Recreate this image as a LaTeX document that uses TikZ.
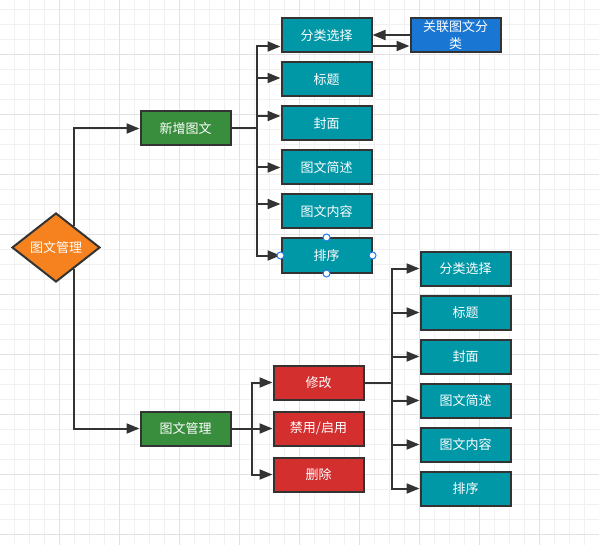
\documentclass[tikz,border=0pt]{standalone}
\usepackage{fontspec}
\setmainfont{Noto Sans CJK SC}
\usetikzlibrary{arrows.meta,shapes.geometric,calc}
\definecolor{boxline}{HTML}{333333}
\definecolor{rootorange}{HTML}{F5821F}
\definecolor{addgreen}{HTML}{388E3C}
\definecolor{fieldteal}{HTML}{0097A7}
\definecolor{linkblue}{HTML}{1976D2}
\definecolor{opred}{HTML}{D32F2F}
\definecolor{handleblue}{HTML}{1A7CF5}
\definecolor{gridminor}{HTML}{F1F1F1}
\definecolor{gridmajor}{HTML}{E2E2E2}
\tikzset{
  box/.style={draw=boxline, line width=2pt, minimum width=90pt, minimum height=34pt,
    inner sep=0pt, text=white, font=\fontsize{13pt}{17pt}\selectfont, align=center},
  dia/.style={diamond, draw=boxline, line width=2pt, fill=rootorange, minimum width=88pt,
    minimum height=69pt, inner sep=0pt, text=white, font=\fontsize{13pt}{17pt}\selectfont},
  conn/.style={draw=boxline, line width=2pt, -{Triangle[length=13pt,width=10pt]}},
  handle/.style={draw=handleblue, fill=white, line width=1pt},
}
\begin{document}
\begin{tikzpicture}[x=1pt,y=-1pt]
\useasboundingbox (0,0) rectangle (599,545);
% grid
\foreach \gx in {0,...,39} \draw[gridminor, line width=1pt] (14.7+15*\gx,0) -- (14.7+15*\gx,545);
\foreach \gy in {0,...,35} \draw[gridminor, line width=1pt] (0,9.3+15*\gy) -- (599,9.3+15*\gy);
\foreach \gx in {0,...,9} \draw[gridmajor, line width=1pt] (59.7+60*\gx,0) -- (59.7+60*\gx,545);
\foreach \gy in {0,...,8} \draw[gridmajor, line width=1pt] (0,54.3+60*\gy) -- (599,54.3+60*\gy);

\node[dia] (root) at (56,247.5) {图文管理}; % root
\node[box, fill=addgreen] (add) at (185.5,128.5) {新增图文}; % add
\node[box, fill=addgreen] (manage) at (185.5,428.5) {图文管理}; % manage
\node[box, fill=linkblue] (link) at (455.5,35.5) {关联图文分\\类}; % link

% fields of add
\foreach \name/\txt [count=\i from 0] in {a/分类选择, b/标题, c/封面, d/图文简述, e/图文内容, f/排序}
  \node[box, fill=fieldteal] (add\name) at (326.5,35.5+44*\i) {\txt};
% operations of manage
\foreach \name/\txt [count=\i from 0] in {edit/修改, toggle/{禁用/启用}, del/删除}
  \node[box, fill=opred] (\name) at (318.5,382.5+46*\i) {\txt};
% fields of edit
\foreach \name/\txt [count=\i from 0] in {a/分类选择, b/标题, c/封面, d/图文简述, e/图文内容, f/排序}
  \node[box, fill=fieldteal] (edit\name) at (465.5,268.5+44*\i) {\txt};

% root -> add, manage
\draw[conn] ($(root.north)!0.4!(root.east)$) |- (add.west);
\draw[conn] ($(root.south)!0.4!(root.east)$) |- (manage.west);

% add -> fields
\coordinate (addtrunk) at ([xshift=25]add.east);
\draw[boxline, line width=2pt] (add.east) -- (addtrunk);
\draw[conn] (addtrunk) |- ([yshift=-11]adda.west);
\draw[conn] (addtrunk) |- ([yshift=1.5]addb.west);
\draw[conn] (addtrunk) |- ([yshift=7.5]addc.west);
\draw[conn] (addtrunk) |- (addd.west);
\draw[conn] (addtrunk) |- ([yshift=7.5]adde.west);
\draw[conn] (addtrunk) |- (addf.west);

% category <-> link
\draw[conn] ([yshift=-10.5]adda.east) -- ([yshift=-10.5]link.west);
\draw[conn] ([yshift=0.5]link.west) -- ([yshift=0.5]adda.east);

% manage -> operations
\coordinate (mantrunk) at ([xshift=20.5]manage.east);
\draw[boxline, line width=2pt] (manage.east) -- (mantrunk);
\foreach \name in {edit, toggle, del}
  \draw[conn] (mantrunk) |- (\name.west);

% edit -> fields
\coordinate (edittrunk) at ([xshift=27.5]edit.east);
\draw[boxline, line width=2pt] (edit.east) -- (edittrunk);
\foreach \name in {a, b, c, d, e, f}
  \draw[conn] (edittrunk) |- (edit\name.west);

% selection handles
\foreach \anc in {north, south, east, west}
  \draw[handle] (addf.\anc) circle (3.5pt);
\end{tikzpicture}
\end{document}
